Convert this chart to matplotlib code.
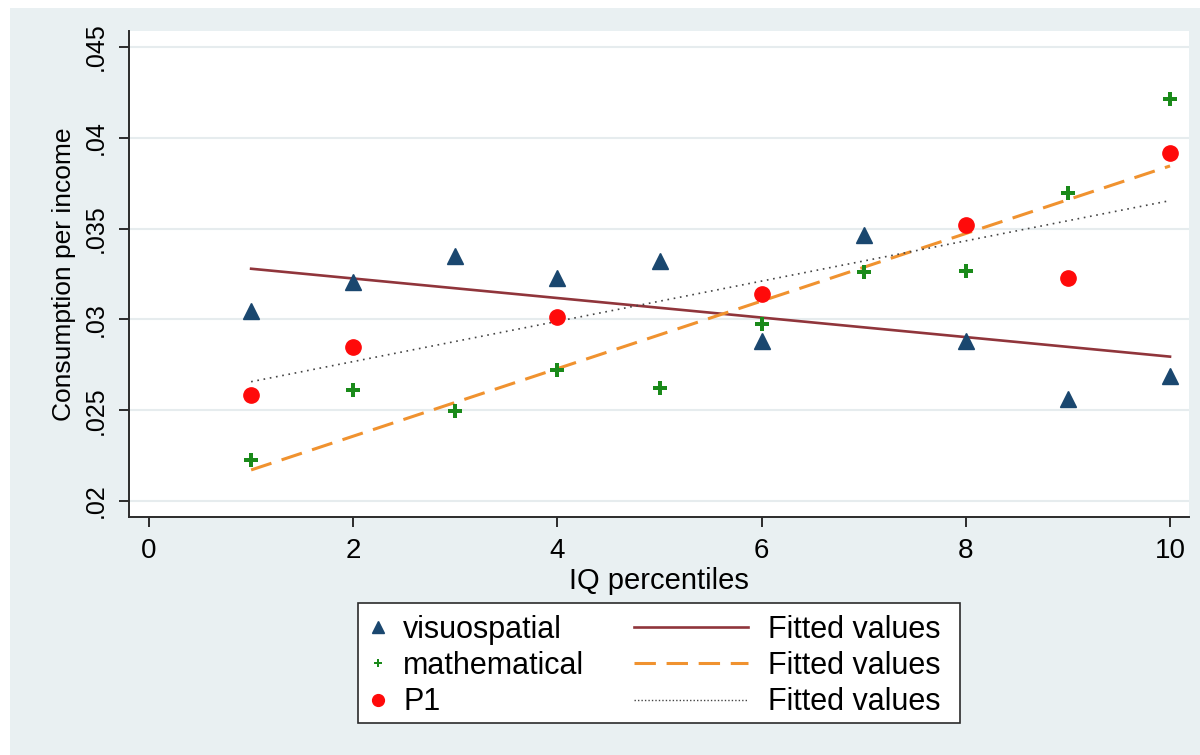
import numpy as np
import matplotlib
matplotlib.use("Agg")
import matplotlib.pyplot as plt
from matplotlib.lines import Line2D
from matplotlib.patches import Rectangle

plt.rcParams['font.family'] = ['Liberation Sans', 'DejaVu Sans']

# IQ percentile groups
pct = np.arange(1, 11)

# mean consumption per income by group
visuospatial = [0.03046, 0.03206, 0.03349, 0.03228, 0.03322,
                0.02881, 0.03465, 0.02881, 0.02562, 0.0269]
mathematical = [0.02226, 0.02611, 0.02496, 0.02721, 0.02622,
                0.02975, 0.03261, 0.03267, 0.03696, 0.04212]
p1_x = [1, 2, 4, 6, 8, 9, 10]
p1 = [0.02584, 0.02848, 0.03013, 0.0314, 0.0352, 0.03228, 0.03918]

# linear fits, evaluated at the ends of the range
fit_x = [1, 10]
fit_vis = [0.03279, 0.02795]
fit_math = [0.02171, 0.03845]
fit_p1 = [0.02657, 0.03654]

yticks = [0.02, 0.025, 0.03, 0.035, 0.04, 0.045]
ytick_labels = ['.02', '.025', '.03', '.035', '.04', '.045']
xticks = [0, 2, 4, 6, 8, 10]

bg = '#E9F0F2'
navy = '#1A476F'
green = '#1A8A1A'
red = '#FF0A0A'
maroon = '#90353B'
orange = '#F0922F'
dotgray = '#444444'

fig = plt.figure(figsize=(12, 7.55), dpi=100, facecolor='white')
fig.add_artist(Rectangle((10 / 1200, 0), 1 - 10 / 1200, 747 / 755,
                         transform=fig.transFigure, facecolor=bg,
                         edgecolor='none', zorder=0))

ax = fig.add_axes([129 / 1200, (755 - 517) / 755, 1060 / 1200, 486 / 755])
ax.set_facecolor('white')

ax.plot(pct, visuospatial, linestyle='none', marker='^', markersize=11,
        color=navy, zorder=3)
ax.plot(pct, mathematical, linestyle='none', marker='P', markersize=10,
        color=green, markeredgewidth=0, zorder=3)
ax.plot(p1_x, p1, linestyle='none', marker='o', markersize=11,
        color=red, zorder=3)
ax.plot(fit_x, fit_vis, color=maroon, lw=1.9, zorder=2)
ax.plot(fit_x, fit_math, color=orange, lw=2.2, linestyle=(0, (7, 3.5)), zorder=2)
ax.plot(fit_x, fit_p1, color=dotgray, lw=1.2, linestyle=(0, (1, 2.8)), zorder=2)

ax.set_xlim(-0.196, 10.186)
ax.set_ylim(0.01912, 0.04588)
ax.set_xticks(xticks)
ax.set_xticklabels([str(t) for t in xticks], fontsize=20)
ax.set_yticks(yticks)
ax.set_yticklabels(ytick_labels, fontsize=18, rotation=90, va='center')

ax.yaxis.grid(True, color='#E6ECEE', lw=1.5)
ax.set_axisbelow(True)
for s in ['top', 'right']:
    ax.spines[s].set_visible(False)
for s in ['left', 'bottom']:
    ax.spines[s].set_color('#2b2b2b')
    ax.spines[s].set_linewidth(1.4)
ax.tick_params(direction='out', length=7, width=1.4, color='#2b2b2b', pad=8)

ax.set_xlabel('IQ percentiles', fontsize=21, labelpad=2)
ax.set_ylabel('Consumption per income', fontsize=19, labelpad=6)

# legend: markers in one column, fitted lines in the other, one shared box
fig.add_artist(Rectangle((358 / 1200, (755 - 723) / 755), 602 / 1200, 120 / 755,
                         transform=fig.transFigure, facecolor='white',
                         edgecolor='#2b2b2b', lw=1.2, zorder=1))

mk_handles = [
    Line2D([], [], linestyle='none', marker='^', markersize=8, color=navy),
    Line2D([], [], linestyle='none', marker='P', markersize=6, color=green,
           markeredgewidth=0),
    Line2D([], [], linestyle='none', marker='o', markersize=8.5, color=red),
]
ln_handles = [
    Line2D([], [], color=maroon, lw=1.9),
    Line2D([], [], color=orange, lw=2.2, linestyle=(0, (7, 3.5))),
    Line2D([], [], color=dotgray, lw=1.0, linestyle=(0, (1, 1.5))),
]

leg1 = fig.legend(mk_handles, ['visuospatial', 'mathematical', 'P1'],
                  loc='upper left', bbox_to_anchor=(363 / 1200, (755 - 615) / 755),
                  frameon=False, fontsize=22, handlelength=1.0,
                  handletextpad=0.31, labelspacing=0.2, borderpad=0,
                  borderaxespad=0)
leg2 = fig.legend(ln_handles, ['Fitted values'] * 3,
                  loc='upper left', bbox_to_anchor=(634 / 1200, (755 - 615) / 755),
                  frameon=False, fontsize=22, handlelength=3.73,
                  handletextpad=0.65, labelspacing=0.2, borderpad=0,
                  borderaxespad=0)
leg1.set_zorder(2)
leg2.set_zorder(2)

fig.savefig('out.png', dpi=100, facecolor=fig.get_facecolor())
